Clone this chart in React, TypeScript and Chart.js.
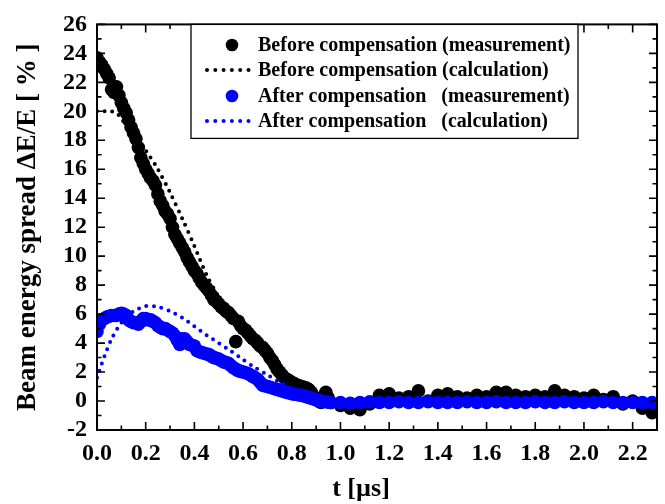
import React, { useEffect, useRef } from "react";
import { Chart, registerables } from "chart.js";

Chart.register(...registerables);

// Measurement time base (µs): 0.01 steps through the decay, 0.04 steps on the plateau
const MEAS_T = [
  0, 0.01, 0.02, 0.03, 0.04, 0.05, 0.06, 0.07, 0.08, 0.09,
  0.1, 0.11, 0.12, 0.13, 0.14, 0.15, 0.16, 0.17, 0.18, 0.19,
  0.2, 0.21, 0.22, 0.23, 0.24, 0.25, 0.26, 0.27, 0.28, 0.29,
  0.3, 0.31, 0.32, 0.33, 0.34, 0.35, 0.36, 0.37, 0.38, 0.39,
  0.4, 0.41, 0.42, 0.43, 0.44, 0.45, 0.46, 0.47, 0.48, 0.49,
  0.5, 0.51, 0.52, 0.53, 0.54, 0.55, 0.56, 0.57, 0.58, 0.59,
  0.6, 0.61, 0.62, 0.63, 0.64, 0.65, 0.66, 0.67, 0.68, 0.69,
  0.7, 0.71, 0.72, 0.73, 0.74, 0.75, 0.76, 0.77, 0.78, 0.79,
  0.8, 0.81, 0.82, 0.83, 0.84, 0.85, 0.86, 0.87, 0.88, 0.89,
  0.9, 0.91, 0.92, 0.93, 0.94, 0.95, 0.96,
  1.0, 1.04, 1.08, 1.12, 1.16, 1.2, 1.24, 1.28, 1.32, 1.36, 1.4, 1.44, 1.48, 1.52, 1.56,
  1.6, 1.64, 1.68, 1.72, 1.76, 1.8, 1.84, 1.88, 1.92, 1.96, 2.0, 2.04, 2.08, 2.12, 2.16,
  2.2, 2.24, 2.28,
];

// Energy spread before compensation, measured (%)
const BEFORE_MEAS = [
  23.7, 23.4, 23.2, 22.9, 22.6, 22.3, 21.5, 21.3, 21.7, 21.1,
  20.6, 20.2, 19.9, 19.4, 18.9, 18.5, 18.1, 17.5, 16.8, 16.4,
  16.0, 15.7, 15.4, 15.2, 14.9, 14.3, 13.8, 13.5, 13.1, 12.9,
  12.6, 12.0, 11.5, 11.2, 10.9, 10.6, 10.3, 9.9, 9.6, 9.3,
  9.0, 8.8, 8.5, 8.2, 8.0, 7.8, 7.6, 7.3, 7.0, 6.9,
  6.7, 6.5, 6.4, 6.2, 6.1, 5.9, 5.7, 4.1, 5.5, 5.2,
  5.0, 4.9, 4.7, 4.5, 4.3, 4.2, 4.0, 3.8, 3.7, 3.5,
  3.3, 3.0, 2.8, 2.5, 2.2, 2.0, 1.8, 1.6, 1.5, 1.4,
  1.3, 1.2, 1.1, 1.05, 1.0, 0.95, 0.9, 0.8, 0.6, 0.3,
  0.1, 0.0, -0.1, 0.3, 0.6, 0.2, -0.1,
  -0.3, -0.5, -0.6, -0.2, 0.4, 0.5, 0.2, 0.3, 0.7, 0.0, 0.4, 0.5, 0.3, 0.2, 0.4,
  0.3, 0.6, 0.6, 0.4, 0.3, 0.4, 0.3, 0.7, 0.4, 0.3, 0.2, 0.4, 0.1, 0.3, -0.2,
  0.0, -0.5, -0.8,
];

// Energy spread after compensation, measured (%)
const AFTER_MEAS = [
  4.8, 5.3, 5.6, 5.7, 5.8, 5.85, 5.9, 5.9, 5.9, 6.0,
  6.05, 6.0, 5.9, 5.6, 5.5, 5.4, 5.4, 5.3, 5.5, 5.7,
  5.7, 5.6, 5.6, 5.5, 5.4, 5.2, 5.1, 5.0, 5.0, 4.9,
  4.8, 4.7, 4.5, 4.2, 3.9, 4.3, 4.3, 4.1, 3.9, 3.85,
  3.8, 3.5, 3.4, 3.35, 3.3, 3.25, 3.2, 3.1, 3.0, 2.95,
  2.9, 2.8, 2.7, 2.65, 2.6, 2.45, 2.3, 2.2, 2.1, 2.05,
  2.0, 1.95, 1.9, 1.8, 1.7, 1.6, 1.5, 1.3, 1.1, 1.05,
  1.0, 0.95, 0.9, 0.85, 0.8, 0.75, 0.7, 0.65, 0.6, 0.55,
  0.5, 0.48, 0.45, 0.42, 0.4, 0.35, 0.3, 0.25, 0.2, 0.15,
  0.1, 0.05, 0.0, -0.03, -0.05, -0.08, -0.1,
  -0.1, -0.15, -0.1, -0.05, -0.1, -0.1, -0.05, -0.1, -0.1, -0.05, -0.1, -0.1, -0.1, -0.05, -0.1,
  -0.1, -0.05, -0.1, -0.1, -0.1, -0.05, -0.1, -0.1, -0.05, -0.1, -0.1, -0.1, -0.05, -0.1,
  -0.1, -0.1, -0.1, -0.1,
];

// Calculation time base (µs)
const CALC_T = [
  0, 0.02, 0.04, 0.06, 0.08, 0.1, 0.12, 0.15, 0.2, 0.25, 0.3, 0.35, 0.4, 0.45, 0.5, 0.55,
  0.6, 0.65, 0.7, 0.75, 0.8, 0.85, 0.9, 0.95, 1.0, 1.2, 1.4, 1.6, 1.8, 2.0, 2.2, 2.3,
];

const BEFORE_CALC = [
  20.0, 20.0, 20.0, 20.0, 19.9, 19.5, 19.0, 18.3, 17.3, 16.0, 14.4, 12.6, 10.7, 8.7, 7.2, 6.0,
  4.9, 3.9, 2.9, 1.9, 1.1, 0.6, 0.25, 0.05, 0, 0, 0, 0, 0, 0, 0, 0,
];

const AFTER_CALC = [
  1.6, 2.6, 3.5, 4.3, 4.9, 5.4, 5.8, 6.2, 6.55, 6.5, 6.2, 5.75, 5.15, 4.55, 4.0, 3.45,
  2.85, 2.3, 1.8, 1.3, 0.9, 0.5, 0.25, 0.08, 0, 0, 0, 0, 0, 0, 0, 0,
];

const SERIES_LABELS = [
  "Before compensation (measurement)",
  "Before compensation (calculation)",
  "After compensation   (measurement)",
  "After compensation   (calculation)",
];

const X_TICKS = [0, 0.2, 0.4, 0.6, 0.8, 1.0, 1.2, 1.4, 1.6, 1.8, 2.0, 2.2];
const X_TITLE = "t [µs]";
const Y_TITLE = "Beam energy spread ΔE/E [ % ]";

const BLUE = "#0000ff";
const BLACK = "#000000";
const SERIF = "'Liberation Serif', 'Times New Roman', serif";

const pairs = (xs: number[], ys: number[]) => xs.map((x, i) => ({ x, y: ys[i] }));

// Frame with inward ticks on all four sides, axis titles and the boxed legend
const decorPlugin = {
  id: "decor",
  afterDraw(chart: any) {
    const { ctx, chartArea: a, scales } = chart;
    const xs = scales.x;
    const ys = scales.y;
    ctx.save();
    ctx.strokeStyle = BLACK;

    // ticks
    ctx.lineWidth = 1.6;
    const major = 8;
    const minor = 4.5;
    for (let k = 0; k <= 23; k++) {
      const v = k / 10;
      const px = xs.getPixelForValue(v);
      const len = k % 2 === 0 ? major : minor;
      ctx.beginPath();
      ctx.moveTo(px, a.bottom);
      ctx.lineTo(px, a.bottom - len);
      ctx.moveTo(px, a.top);
      ctx.lineTo(px, a.top + len);
      ctx.stroke();
    }
    for (let v = -2; v <= 26; v++) {
      const py = ys.getPixelForValue(v);
      const len = v % 2 === 0 ? major : minor;
      ctx.beginPath();
      ctx.moveTo(a.left, py);
      ctx.lineTo(a.left + len, py);
      ctx.moveTo(a.right, py);
      ctx.lineTo(a.right - len, py);
      ctx.stroke();
    }

    // frame
    ctx.lineWidth = 2;
    ctx.strokeRect(a.left, a.top, a.right - a.left, a.bottom - a.top);

    // axis titles
    ctx.fillStyle = BLACK;
    ctx.textAlign = "center";
    ctx.textBaseline = "middle";
    ctx.font = `bold 26px ${SERIF}`;
    ctx.fillText(X_TITLE, 361, 489);
    ctx.save();
    ctx.font = `bold 27px ${SERIF}`;
    ctx.translate(28, (a.top + a.bottom) / 2);
    ctx.rotate(-Math.PI / 2);
    ctx.fillText(Y_TITLE, 0, 0);
    ctx.restore();

    // legend box
    const bx = 191, by = a.top, bw = 387, bh = 114;
    ctx.fillStyle = "#ffffff";
    ctx.fillRect(bx, by, bw, bh);
    ctx.lineWidth = 1.3;
    ctx.strokeRect(bx, by, bw, bh);

    const rows = [45, 70, 96, 121];
    const kinds = ["dot", "line", "dot", "line"];
    const colors = [BLACK, BLACK, BLUE, BLUE];
    ctx.font = `bold 20px ${SERIF}`;
    ctx.textAlign = "left";
    ctx.textBaseline = "middle";
    rows.forEach((ry, i) => {
      ctx.fillStyle = colors[i];
      if (kinds[i] === "dot") {
        ctx.beginPath();
        ctx.arc(232, ry, 6.3, 0, Math.PI * 2);
        ctx.fill();
      } else {
        for (let d = 0; d < 6; d++) {
          ctx.beginPath();
          ctx.arc(207 + d * 8.3, ry, 2, 0, Math.PI * 2);
          ctx.fill();
        }
      }
      ctx.fillStyle = BLACK;
      ctx.fillText(chart.data.datasets[i].label, 258, ry + 1);
    });
    ctx.restore();
  },
};

export default function App() {
  const canvasRef = useRef<HTMLCanvasElement | null>(null);

  useEffect(() => {
    const canvas = canvasRef.current;
    if (!canvas) return;
    const chart = new Chart(canvas, {
      type: "scatter",
      data: {
        datasets: [
          {
            label: SERIES_LABELS[0],
            data: pairs(MEAS_T, BEFORE_MEAS),
            pointRadius: 6.8,
            pointBackgroundColor: BLACK,
            pointBorderWidth: 0,
            showLine: false,
            order: 4,
          },
          {
            label: SERIES_LABELS[1],
            data: pairs(CALC_T, BEFORE_CALC),
            showLine: true,
            pointRadius: 0,
            borderColor: BLACK,
            borderWidth: 4,
            borderDash: [0, 7.6],
            borderCapStyle: "round",
            tension: 0.3,
            order: 3,
          },
          {
            label: SERIES_LABELS[2],
            data: pairs(MEAS_T, AFTER_MEAS),
            pointRadius: 6.8,
            pointBackgroundColor: BLUE,
            pointBorderWidth: 0,
            showLine: false,
            order: 2,
          },
          {
            label: SERIES_LABELS[3],
            data: pairs(CALC_T, AFTER_CALC),
            showLine: true,
            pointRadius: 0,
            borderColor: BLUE,
            borderWidth: 4,
            borderDash: [0, 7.6],
            borderCapStyle: "round",
            tension: 0.3,
            order: 1,
          },
        ],
      },
      options: {
        responsive: false,
        maintainAspectRatio: false,
        animation: false,
        layout: { padding: { top: 21, right: 8, left: 0, bottom: 0 } },
        plugins: {
          legend: { display: false },
          tooltip: { enabled: false },
        },
        scales: {
          x: {
            type: "linear",
            min: 0,
            max: 2.3,
            border: { display: false },
            grid: { display: false, drawTicks: false },
            afterBuildTicks: (scale: any) => {
              scale.ticks = X_TICKS.map((value) => ({ value }));
            },
            afterFit: (scale: any) => {
              scale.height = 74;
            },
            ticks: {
              padding: 9,
              color: BLACK,
              font: { family: SERIF, size: 24, weight: "bold" },
              maxRotation: 0,
              autoSkip: false,
              callback: (v: any) => Number(v).toFixed(1),
            },
          },
          y: {
            type: "linear",
            min: -2,
            max: 26,
            border: { display: false },
            grid: { display: false, drawTicks: false },
            afterFit: (scale: any) => {
              scale.width = 97;
            },
            ticks: {
              stepSize: 2,
              padding: 10,
              color: BLACK,
              font: { family: SERIF, size: 24, weight: "bold" },
              autoSkip: false,
              callback: (v: any) => String(v),
            },
          },
        },
      },
      plugins: [decorPlugin],
    });
    return () => chart.destroy();
  }, []);

  return (
    <div style={{ position: "fixed", left: 0, top: 0, width: 665, height: 504, background: "#fff" }}>
      <canvas ref={canvasRef} width={665} height={504} style={{ display: "block" }} />
    </div>
  );
}
